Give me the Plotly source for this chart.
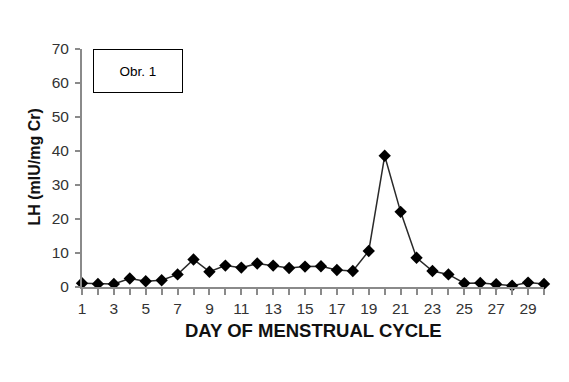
import plotly.graph_objects as go

days = list(range(1, 31))
lh = [1.1, 0.9, 0.9, 2.5, 1.7, 2.0, 3.7, 8.1, 4.5, 6.3,
      5.7, 6.9, 6.3, 5.6, 6.0, 6.1, 5.0, 4.7, 10.6, 38.6,
      22.1, 8.6, 4.7, 3.7, 1.1, 1.2, 0.8, 0.4, 1.3, 0.9]
x_tick_vals = list(range(1, 31, 2))
y_tick_vals = list(range(0, 71, 10))

fig = go.Figure()
fig.add_trace(go.Scatter(
    x=days, y=lh, mode="lines+markers",
    line=dict(color="#2a2a2a", width=1.5),
    marker=dict(symbol="diamond", size=9.5, color="#000000"),
    cliponaxis=False, showlegend=False,
))

axis_color = "#8a8a8a"
fig.update_layout(
    width=561, height=374,
    margin=dict(l=74, r=25, t=41, b=95),
    paper_bgcolor="white", plot_bgcolor="white",
    font=dict(family="Arial, Liberation Sans, sans-serif", color="#333333"),
    xaxis=dict(
        range=[1, 30], showgrid=False, zeroline=False,
        showline=True, linecolor=axis_color, linewidth=2,
        ticks="outside", ticklen=6, tickcolor=axis_color, tickwidth=1.5,
        tickvals=days,
        ticktext=[str(d) if d in x_tick_vals else "" for d in days],
        tickfont=dict(size=15.5, color="#333333"),
    ),
    yaxis=dict(
        range=[0, 70], showgrid=False, zeroline=False,
        showline=True, linecolor=axis_color, linewidth=2,
        ticks="outside", ticklen=5, tickcolor=axis_color, tickwidth=1.5,
        tickvals=y_tick_vals, ticklabelstandoff=3,
        tickfont=dict(size=15.5, color="#333333"),
    ),
    annotations=[
        dict(text="<b>DAY OF MENSTRUAL CYCLE</b>", xref="paper", yref="paper",
             x=(313 - 82) / 462, y=0, yshift=-43, showarrow=False,
             xanchor="center", yanchor="middle",
             font=dict(size=18.5, color="#111111")),
        dict(text="<b>LH (mIU/mg Cr)</b>", xref="paper", yref="paper",
             x=0, xshift=-48, y=(287 - 167.5) / 238, textangle=-90,
             showarrow=False, xanchor="center", yanchor="middle",
             font=dict(size=16, color="#111111")),
        dict(text="Obr. 1", xref="paper", yref="paper",
             x=(138 - 82) / 462, y=1, yshift=-22, showarrow=False,
             xanchor="center", yanchor="middle",
             width=86, height=40, bordercolor="#000000", borderwidth=1,
             bgcolor="white",
             font=dict(size=13.5, color="#000000")),
    ],
)

fig.write_html("out.html")
